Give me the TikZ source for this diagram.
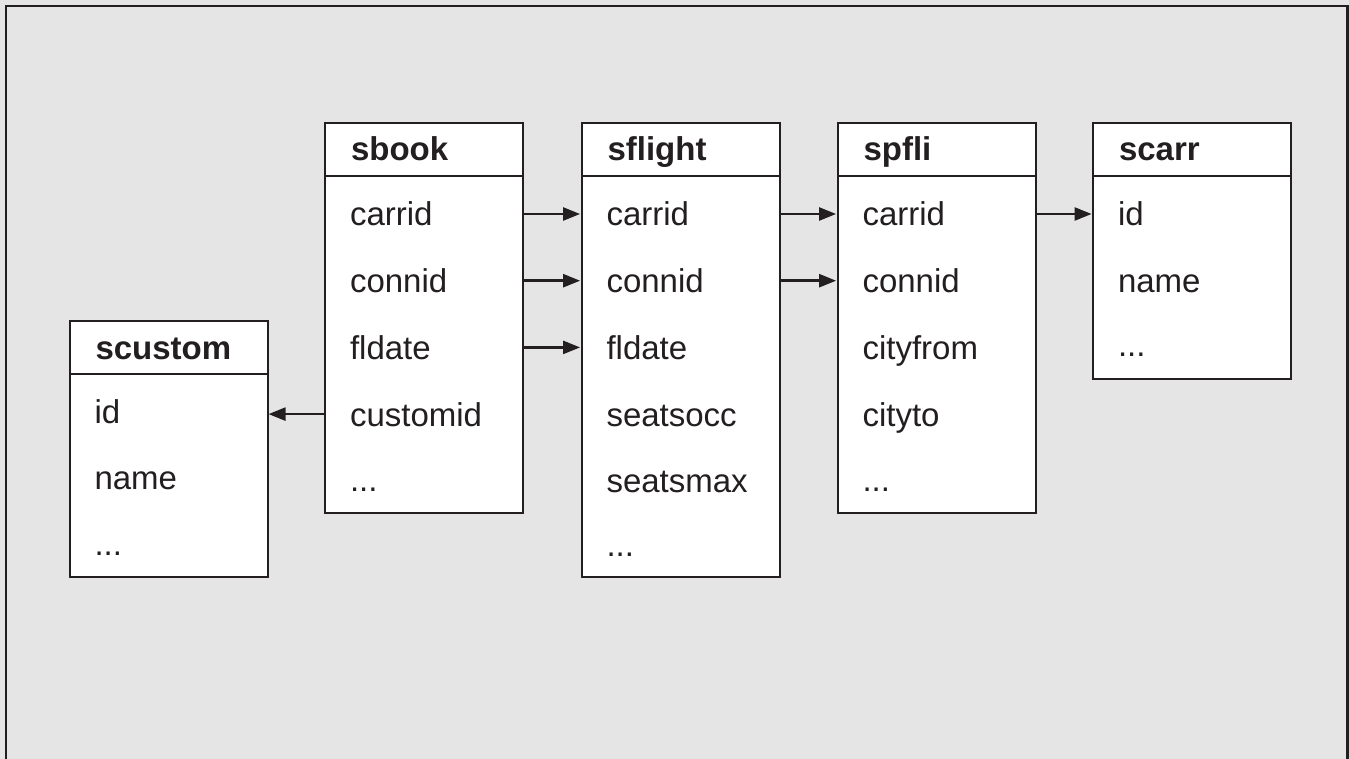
\documentclass[tikz,border=0pt]{standalone}
\usepackage{fontspec}
\setmainfont{Liberation Sans}
\usetikzlibrary{arrows.meta}
\definecolor{ink}{HTML}{231F20}
\definecolor{panel}{HTML}{E5E5E5}
\tikzset{
  tblhead/.style={draw=ink, fill=white, line width=1pt, anchor=north west,
    minimum width=99pt, minimum height=26.5pt, inner xsep=13pt, inner ysep=0pt,
    text width=73pt, align=left, text height=11.5pt, text depth=0pt,
    font=\fontsize{16.5}{20}\selectfont\bfseries, text=ink},
  tblbody/.style={draw=ink, fill=white, line width=1pt, anchor=north west,
    minimum width=99pt, inner sep=0pt},
  field/.style={minimum width=99pt, inner xsep=13pt, inner ysep=0pt,
    text width=73pt, align=left, text height=12pt, text depth=0pt,
    font=\fontsize{16.5}{20}\selectfont, text=ink},
  fk/.style={draw=ink, line width=1.2pt, -{Triangle[length=8.5pt, width=6.5pt]}}
}
\begin{document}
\begin{tikzpicture}[x=0.5pt, y=-0.5pt]
\useasboundingbox (0,0) rectangle (1349,759);
\fill[panel] (0,0) rectangle (1349,759);
\draw[ink, line width=1.2pt] (6,6) rectangle (1347.5,790);

% scustom
\node[tblbody, minimum height=101.5pt] (cuB) at (68.5,373) {};
\node[tblhead] (cu) at (68.5,320) {scustom};
\node[field] (cu1) at (167.5,411) {id};
\node[field] (cu2) at (167.5,477.7) {name};
\node[field] (cu3) at (167.5,543) {...};

% sbook
\node[tblbody, minimum height=168.5pt] (sbB) at (324,175) {};
\node[tblhead] (sb) at (324,122) {sbook};
\node[field] (sb1) at (423,214) {carrid};
\node[field] (sb2) at (423,280.7) {connid};
\node[field] (sb3) at (423,347.4) {fldate};
\node[field] (sb4) at (423,414.1) {customid};
\node[field] (sb5) at (423,479.5) {...};

% sflight
\node[tblbody, minimum height=200.5pt] (sfB) at (580.5,175) {};
\node[tblhead] (sf) at (580.5,122) {sflight};
\node[field] (sf1) at (679.5,214) {carrid};
\node[field] (sf2) at (679.5,280.7) {connid};
\node[field] (sf3) at (679.5,347.4) {fldate};
\node[field] (sf4) at (679.5,414.1) {seatsocc};
\node[field] (sf5) at (679.5,480.8) {seatsmax};
\node[field] (sf6) at (679.5,544) {...};

% spfli
\node[tblbody, minimum height=168.5pt] (spB) at (836.5,175) {};
\node[tblhead] (sp) at (836.5,122) {spfli};
\node[field] (sp1) at (935.5,214) {carrid};
\node[field] (sp2) at (935.5,280.7) {connid};
\node[field] (sp3) at (935.5,347.4) {cityfrom};
\node[field] (sp4) at (935.5,414.1) {cityto};
\node[field] (sp5) at (935.5,479.5) {...};

% scarr
\node[tblbody, minimum height=101.5pt] (scB) at (1092,175) {};
\node[tblhead] (sc) at (1092,122) {scarr};
\node[field] (sc1) at (1191,214) {id};
\node[field] (sc2) at (1191,280.7) {name};
\node[field] (sc3) at (1191,345) {...};

% foreign keys
\draw[fk] (sb1.east) -- (sf1.west);
\draw[fk] (sb2.east) -- (sf2.west);
\draw[fk] (sb3.east) -- (sf3.west);
\draw[fk] (sf1.east) -- (sp1.west);
\draw[fk] (sf2.east) -- (sp2.west);
\draw[fk] (sp1.east) -- (sc1.west);
\draw[fk] (sb4.west) -- (sb4.west -| cuB.east);
\end{tikzpicture}
\end{document}
